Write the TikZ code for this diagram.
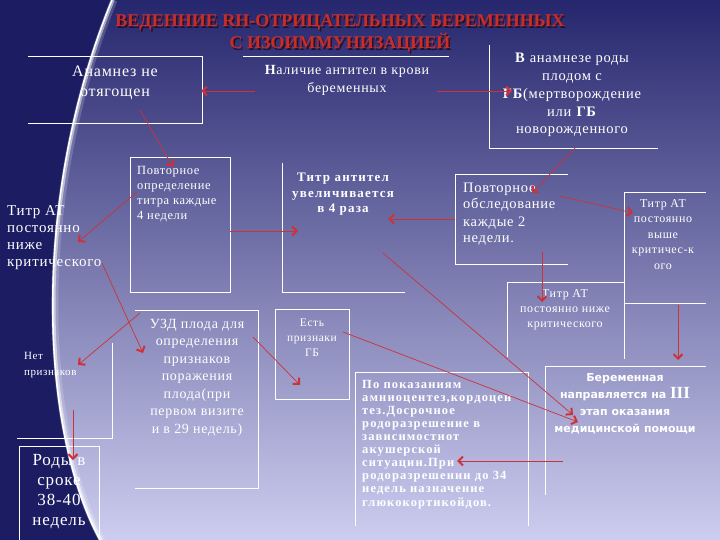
\documentclass[tikz,border=0pt]{standalone}
\usepackage{fontspec}
\setmainfont{Liberation Serif}[LetterSpace=5]
\newfontfamily\titlefont{Liberation Serif}
\newfontfamily\wideserif{Liberation Serif}[LetterSpace=9]
\newfontfamily\boxsans{DejaVu Sans}
\usetikzlibrary{arrows.meta}
\definecolor{bgtop}{RGB}{38,38,110}
\definecolor{bgmid}{RGB}{108,108,188}
\definecolor{bgbot}{RGB}{205,205,240}
\definecolor{navy}{RGB}{28,28,98}
\definecolor{arrred}{RGB}{205,50,55}
\definecolor{titlered}{RGB}{200,45,40}
\definecolor{titleshadow}{RGB}{45,15,35}
\newcommand\fsz[2]{\fontsize{#1}{#2}\selectfont}
\begin{document}
\begin{tikzpicture}[x=1pt,y=-1pt,
  wl/.style={draw=white,line width=0.9pt},
  ar/.style={draw=arrred,line width=0.7pt,-{Straight Barb[length=4.5pt,width=9pt,line width=2pt]}},
  tc/.style={text=white,inner sep=0pt,align=center,anchor=base},
  tl/.style={text=white,inner sep=0pt,align=left,anchor=base west}]
\useasboundingbox (0,0) rectangle (720,540);
% background
\shade[top color=bgtop, middle color=bgmid, bottom color=bgbot] (0,0) rectangle (720,540);
\fill[navy] (0,0) -- (112,0) .. controls (30,200) and (40,430) .. (100,540) -- (0,540) -- cycle;
\draw[white,opacity=0.18,line width=7pt] (114,0) .. controls (32,200) and (42,430) .. (102,540);
\draw[white,opacity=0.5,line width=3.5pt] (113,0) .. controls (31,200) and (41,430) .. (101,540);
\draw[white,line width=1.6pt] (112,0) .. controls (30,200) and (40,430) .. (100,540);
% title (base anchor = last line baseline)
\node[inner sep=0pt,align=center,anchor=base,text=titleshadow,font=\titlefont\bfseries\fsz{18}{22}] (titlesh) at (341.5,50.5) {ВЕДЕННИЕ RH-ОТРИЦАТЕЛЬНЫХ БЕРЕМЕННЫХ\\С ИЗОИММУНИЗАЦИЕЙ};
\node[inner sep=0pt,align=center,anchor=base,text=titlered,font=\titlefont\bfseries\fsz{18}{22}] (title) at (340,49) {ВЕДЕННИЕ RH-ОТРИЦАТЕЛЬНЫХ БЕРЕМЕННЫХ\\С ИЗОИММУНИЗАЦИЕЙ};
% box outlines
\draw[wl] (28,56) -- (202,56) -- (202,123) -- (28,123);
\draw[wl] (243,56) -- (449,56);
\draw[wl] (489,45) -- (489,148) -- (658,148);
\draw[wl] (130,157) rectangle (230,292);
\draw[wl] (282,163) -- (282,292) -- (405,292);
\draw[wl] (568,174) -- (455,174) -- (455,264) -- (568,264);
\draw[wl] (706,192) -- (624,192) -- (624,359);
\draw[wl] (624,303) -- (706,303);
\draw[wl] (507,357) -- (507,282) -- (624,282);
\draw[wl] (112,343) -- (112,438) -- (17,438);
\draw[wl] (19,541) -- (19,446) -- (99,446) -- (99,541);
\draw[wl] (135,310) -- (258,310) -- (258,488) -- (135,488);
\draw[wl] (275,309) rectangle (349,399);
\draw[wl] (355,526) -- (355,372) -- (528,372) -- (528,526);
\draw[wl] (545,495) -- (545,366) -- (706,366);
% texts (anchor at baseline of the last line)
\node[tc,font=\fsz{16}{19.5}] (anam) at (115,96.5) {Анамнез не\\отягощен};
\node[tc,font=\fsz{14}{17.5}] (antit) at (347,92.5) {\textbf{Н}аличие антител в крови\\беременных};
\node[tc,font=\fsz{14.5}{17.8}] (anamgb) at (572,134) {\textbf{В} анамнезе роды\\плодом с\\\textbf{ГБ}(мертворождение\\или \textbf{ГБ}\\новорожденного};
\node[tl,font=\fsz{12.5}{15}] (povt4) at (137,219) {Повторное\\определение\\титра каждые\\4 недели};
\node[tl,font=\fsz{15}{16.8}] (nizhe1) at (7,266) {Титр АТ\\постоянно\\ниже\\критического};
\node[tc,font=\wideserif\bfseries\fsz{13}{16}] (uvel) at (343,213) {Титр антител\\увеличивается\\в 4 раза};
\node[tl,font=\fsz{14.5}{17}] (povt2) at (463,243) {Повторное\\обследование\\каждые 2\\недели.};
\node[tc,font=\fsz{12}{15.5}] (vyshe) at (663,269) {Титр АТ\\постоянно\\выше\\критичес-к\\ого};
\node[tc,font=\fsz{12}{15}] (nizhe2) at (565,327) {Титр АТ\\постоянно ниже\\критического};
\node[tl,font=\fsz{11}{16}] (net) at (24,375) {Нет\\признаков};
\node[tc,font=\fsz{17}{19.7}] (rody) at (59,525) {Роды в\\сроке\\38-40\\недель};
\node[tc,font=\fsz{14}{17.5}] (uzd) at (197,433) {УЗД плода для\\определения\\признаков\\поражения\\плода(при\\первом визите\\и в 29 недель)};
\node[tc,font=\fsz{11.5}{15}] (est) at (312,356) {Есть\\признаки\\ГБ};
\node[tl,font=\wideserif\bfseries\fsz{12.5}{13.1}] (pokaz) at (362,506) {По показаниям\\амниоцентез,кордоцен\\тез.Досрочное\\родоразрешение в\\зависимостиот\\акушерской\\ситуации.При\\родоразрешении до 34\\недель назначение\\глюкокортикойдов.};
\node[tc,font=\boxsans\bfseries\fsz{11}{17}] (napr) at (625,432) {Беременная\\направляется на {\titlefont\fontsize{17}{17}\selectfont III}\\этап оказания\\медицинской помощи};
% arrow end points
\coordinate (a1s) at (255,91);  \coordinate (a1e) at (201,91);
\coordinate (a2s) at (437,91);  \coordinate (a2e) at (512,91);
\coordinate (a3s) at (140,110); \coordinate (a3e) at (173,167);
\coordinate (a4s) at (137,192); \coordinate (a4e) at (78,242);
\coordinate (a5s) at (230,231); \coordinate (a5e) at (298,231);
\coordinate (a6s) at (455,219); \coordinate (a6e) at (388,219);
\coordinate (a7s) at (575,148); \coordinate (a7e) at (532,193);
\coordinate (a8s) at (560,196); \coordinate (a8e) at (633,213);
\coordinate (a9s) at (542,252); \coordinate (a9e) at (542,302);
\coordinate (a10s) at (678,305); \coordinate (a10e) at (678,360);
\coordinate (a11s) at (563,461); \coordinate (a11e) at (457,461);
\coordinate (a12s) at (383,253); \coordinate (a12e) at (573,415);
\coordinate (a13s) at (343,332); \coordinate (a13e) at (578,422);
\coordinate (a14s) at (253,337); \coordinate (a14e) at (300,385);
\coordinate (a15s) at (102,263); \coordinate (a15e) at (143,353);
\coordinate (a16s) at (140,313); \coordinate (a16e) at (78,365);
\coordinate (a17s) at (73,410);  \coordinate (a17e) at (73,460);
\foreach \i in {1,...,17} \draw[ar] (a\i s) -- (a\i e);
\end{tikzpicture}
\end{document}
